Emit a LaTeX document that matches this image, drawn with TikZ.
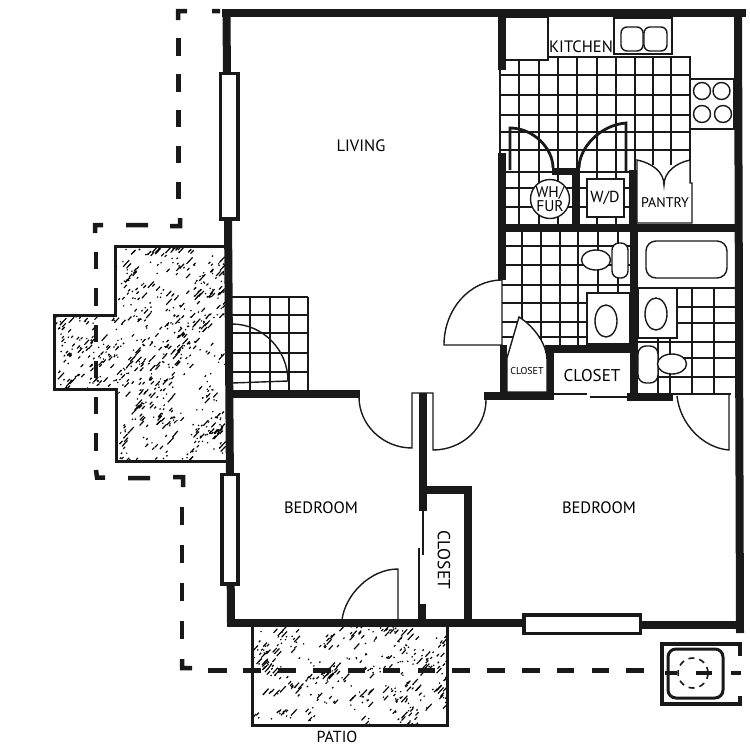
\documentclass[tikz,border=0pt]{standalone}
\usepackage{fontspec}
\setmainfont{PT Sans}
\tikzset{
  wall/.style={line width=8pt,black!90},
  thinwall/.style={line width=2.8pt,black!90},
  tile/.style={line width=1.3pt,black!90},
  fixture/.style={line width=1.4pt,black!90,fill=white},
  doorleaf/.style={line width=1.4pt,black!90},
  winbox/.style={line width=3.2pt,black!90,fill=white},
  stoop/.style={line width=3pt,black!90},
  limit/.style={line width=4.5pt,black!90},
  room/.style={font=\fontsize{16.5}{16.5}\selectfont,inner sep=0pt},
}
% random short strokes, in clusters
\newcommand{\hatcharea}[5]{%
  \foreach \c in {1,...,#5} {
    \pgfmathsetmacro{\cx}{#1+rnd*#3}
    \pgfmathsetmacro{\cy}{#2+rnd*#4}
    \foreach \m in {1,...,4} {
      \pgfmathsetmacro{\hx}{\cx+(rnd-0.5)*14}
      \pgfmathsetmacro{\hy}{\cy+(rnd-0.5)*14}
      \pgfmathsetmacro{\hl}{1.2+pow(rnd,3)*8}
      \draw[line width=1.15pt] (\hx,\hy) -- ++(0.68*\hl,-0.73*\hl) ;
    }
  }
}
\begin{document}
\begin{tikzpicture}[x=1pt,y=-1pt]
        \useasboundingbox (0,0) rectangle (750,750) ;
        \pgfmathsetseed{23}
        % hatched stoop and patio
        \begin{scope}
          \clip (115,246)--(226,246)--(226,461)--(116,461)--(116,389)--(54,389)--(54,315)--(115,315)--cycle ;
          \hatcharea{54}{246}{172}{215}{230}
        \end{scope}
        \begin{scope}
          \clip (252,627) rectangle (447,725) ;
          \hatcharea{252}{627}{195}{98}{100}
        \end{scope}
        \draw[stoop] (226,246)--(115,246)--(115,315)--(54,315)--(54,389)--(116,389)--(116,461)--(226,461) ;
        \draw[stoop] (252,627)--(252,725)--(447,725)--(447,627) ;
        % limit of the lot
        \draw[limit] (212,11)--(220,11) (187,11)--(178,11)--(178,20) (170,226)--(180,226)--(180,218)
        (148,225)--(126,225) (103,225)--(95,225)--(95,233) (96,470)--(97,477.5)--(105,477.5)
        (128,478)--(150,478) (173,477)--(183,477)--(183,487) (182,659)--(182,668)--(192,668) ;
        \foreach \a/\b in {38/56,74/92,110/127,146/163,182/199}
          \draw[limit] (178.5,\a) -- (178.5,\b) ;
        \foreach \a/\b in {252/269,288/306,325/342,361/378,397/414,433/451}
          \draw[limit] (96,\a) -- (96,\b) ;
        \foreach \a/\b in {507/525,545/563,583/601,621/639}
          \draw[limit] (182,\a) -- (182,\b) ;
        \foreach \a/\b in {208/227,243/261,278/296,313/331,348/365,383/400,418/435,452/470,487/505,522/540,557/574,592/609,626/644}
          \draw[limit] (\a,670.5) -- (\b,670.5) ;
        % kitchen tile
        \foreach \x in {519,539,558,577,597,616,635}
          \draw[tile] (\x,57) -- (\x,228) ;
        \foreach \x in {653,671}
          \draw[tile] (\x,57) -- (\x,165) ;
        \foreach \y in {75,95,115,132,150}
          \draw[tile] (500,\y) -- (690,\y) ;
        \foreach \y in {172,188,207}
          \draw[tile] (506,\y) -- (629,\y) ;
        \draw[tile] (548,57) -- (690,57) -- (690,183) ;
        \draw[tile] (500,70) -- (500,153) ;
        % kitchen fixtures
        \draw[fixture] (505,17) rectangle (548,60) ;
        \draw[fixture] (614,18) rectangle (672,54) ;
        \draw[fixture,rounded corners=6pt] (621,27) rectangle (643,51) ;
        \draw[fixture,rounded corners=6pt] (644,27) rectangle (667,51) ;
        \draw[fixture] (690,79) rectangle (734,129) ;
        \foreach \x/\y in {702/91,721.5/91,702/114,723/114}
          \draw[fixture] (\x,\y) circle (8.5) ;
        \draw[fixture] (550,199) circle (19.5) ;
        \draw[fixture] (587,179) rectangle (624,217) ;
        \draw[fixture] (637,160) .. controls (652,163) and (664,172) .. (664,185)
        .. controls (664,172) and (676,163) .. (690,160) -- (690,183) -- (692,183)
        -- (692,223) -- (637,223) -- cycle ;
        % bath tile
        \foreach \x in {522,541,560,578,598,618}
          \draw[tile] (\x,232) -- (\x,345) ;
        \foreach \y in {246,265,285,303,322,337}
          \draw[tile] (502,\y) -- (630,\y) ;
        \foreach \x in {692,714}
          \draw[tile] (\x,288) -- (\x,394) ;
        \foreach \x in {658,670}
          \draw[tile] (\x,338) -- (\x,394) ;
        \foreach \y in {307,323,342,358,377}
          \draw[tile] (677,\y) -- (736,\y) ;
        \draw[tile] (637,342) -- (677,342) ;
        \draw[tile] (637,377) -- (677,377) ;
        \draw[tile] (637,394) -- (731,394) ;
        % bath fixtures
        \draw[fixture,rounded corners=7pt] (612,243) rectangle (628,278) ;
        \draw[fixture] (596,260) ellipse (14.5 and 10) ;
        \draw[fixture] (587,293) rectangle (630,344) ;
        \draw[fixture] (606,321) ellipse (11 and 16) ;
        \draw[fixture] (637,288) -- (735,288) ;
        \draw[fixture,rounded corners=10pt] (646,241) rectangle (727,278) ;
        \draw[fixture] (638,288) rectangle (677,338) ;
        \draw[fixture] (656,314) ellipse (11 and 16) ;
        \draw[fixture,rounded corners=8pt] (638,346) rectangle (658,383) ;
        \draw[fixture] (672,364) ellipse (14.5 and 10) ;
        \draw[fixture] (507,358) -- (519,317) .. controls (535,327) and (547,345) .. (547,360)
        -- (547,392) -- (507,392) -- cycle ;
        % entry tile
        \foreach \x in {250,270,289,308}
          \draw[tile] (\x,297) -- (\x,390) ;
        \foreach \y in {297,315,333,353,372}
          \draw[tile] (232,\y) -- (308,\y) ;
        % doors
        \draw[thinwall] (510,170) -- (510,128) .. controls (533,128) and (553,148) .. (553,168) ;
        \draw[thinwall] (626,172) -- (626,123) .. controls (600,125) and (579,148) .. (579,168) ;
        \draw[doorleaf] (502,345) -- (444,345) .. controls (444,309) and (470,280) .. (502,280) -- (502,345) ;
        \draw[doorleaf] (232,324) .. controls (263,324) and (288,350) .. (288,381) -- (232,383) ;
        \draw[doorleaf] (359,397) .. controls (359,425) and (383,448) .. (412,448) -- (412,393) -- (433,393) -- (433,450)
        .. controls (462,450) and (486,428) .. (486,400) ;
        \draw[doorleaf] (342,620) .. controls (345,595) and (370,569) .. (398,569) -- (398,620) ;
        \draw[doorleaf] (677,396) .. controls (680,424) and (703,448) .. (729,450) -- (729,395) ;
        \draw[doorleaf] (554,394) -- (587,394) (590,397) -- (627,397) ;
        \draw[doorleaf] (423,511) -- (423,555) (419,548) -- (419,605) ;
        % walls
        \draw[wall,line cap=rect] (226,12.5) -- (742,12.5) ;
        \draw[wall] (738,12) -- (740,633) ;
        \draw[wall] (226.5,12) -- (231,623) ;
        \draw[wall] (227,623) -- (523,623) ;
        \draw[wall] (640,625) -- (741,625) ;
        \draw[wall] (501.5,12) -- (501.5,70) ;
        \draw[wall] (502,153) -- (502,280) ;
        \draw[wall] (502,228) -- (738,228) ;
        \draw[wall,line width=7pt] (552,171.5) -- (579,171.5) ;
        \draw[wall] (576,168) -- (576,228) ;
        \draw[wall] (633,170) -- (633,228) ;
        \draw[wall] (633.5,228) -- (633.5,400) ;
        \draw[wall] (545,349) -- (633,349) ;
        \draw[wall,line width=7pt] (503.5,345) -- (503.5,396) ;
        \draw[wall,line width=7pt] (550,349) -- (550,396) ;
        \draw[wall] (484,396) -- (554,396) ;
        \draw[wall] (627,396.5) -- (673,396.5) ;
        \draw[wall] (230,394) -- (360,394) ;
        \draw[wall] (422.5,393) -- (422.5,511) ;
        \draw[wall] (422.5,490) -- (472,490) ;
        \draw[wall] (468,486) -- (468,623) ;
        \draw[wall] (422,604) -- (422,623) ;
        % windows
        \draw[winbox] (220.5,73.5) rectangle (238,219) ;
        \draw[winbox] (222,474.5) rectangle (238,584) ;
        \draw[winbox] (524,615) rectangle (640.5,633.5) ;
        % air unit
        \draw[line width=3.6pt,black!90] (740,656) -- (740,644) -- (662,644) -- (662,704) -- (740,704) -- (740,696) ;
        \draw[line width=3pt,black!90,rounded corners=8pt] (668,649) rectangle (723,698) ;
        \draw[line width=1.6pt,black!90,dash pattern=on 6pt off 5pt] (693,673) circle (15) ;
        \draw[limit] (665,673) -- (677,673)
        (696,673) -- (712,673) (731,673) -- (741,673) ;
        % labels
        \node[room] (living) at (361,146) {LIVING} ;
        \node[room] (bedroomA) at (321,508) {BEDROOM} ;
        \node[room] (bedroomB) at (599,508) {BEDROOM} ;
        \node[room] (kitchen) at (581,47) {KITCHEN} ;
        \node[room,font=\fontsize{14}{14}\selectfont] (pantry) at (665,203) {PANTRY} ;
        \node[room,font=\fontsize{16}{16}\selectfont] (wd) at (605,198) {W/D} ;
        \node[room,align=center,font=\fontsize{15.5}{14.5}\selectfont] (whfur) at (550,199) {WH/\\FUR} ;
        \node[room,font=\fontsize{10}{10}\selectfont] (closetC) at (527,371) {CLOSET} ;
        \node[room,font=\fontsize{17}{17}\selectfont] (closetD) at (592,376) {CLOSET} ;
        \node[room,rotate=-90,font=\fontsize{17.5}{17.5}\selectfont] (closetE) at (444,560) {CLOSET} ;
        \node[room,font=\fontsize{16}{16}\selectfont] (patio) at (337,737) {PATIO} ;
      \end{tikzpicture}
\end{document}
